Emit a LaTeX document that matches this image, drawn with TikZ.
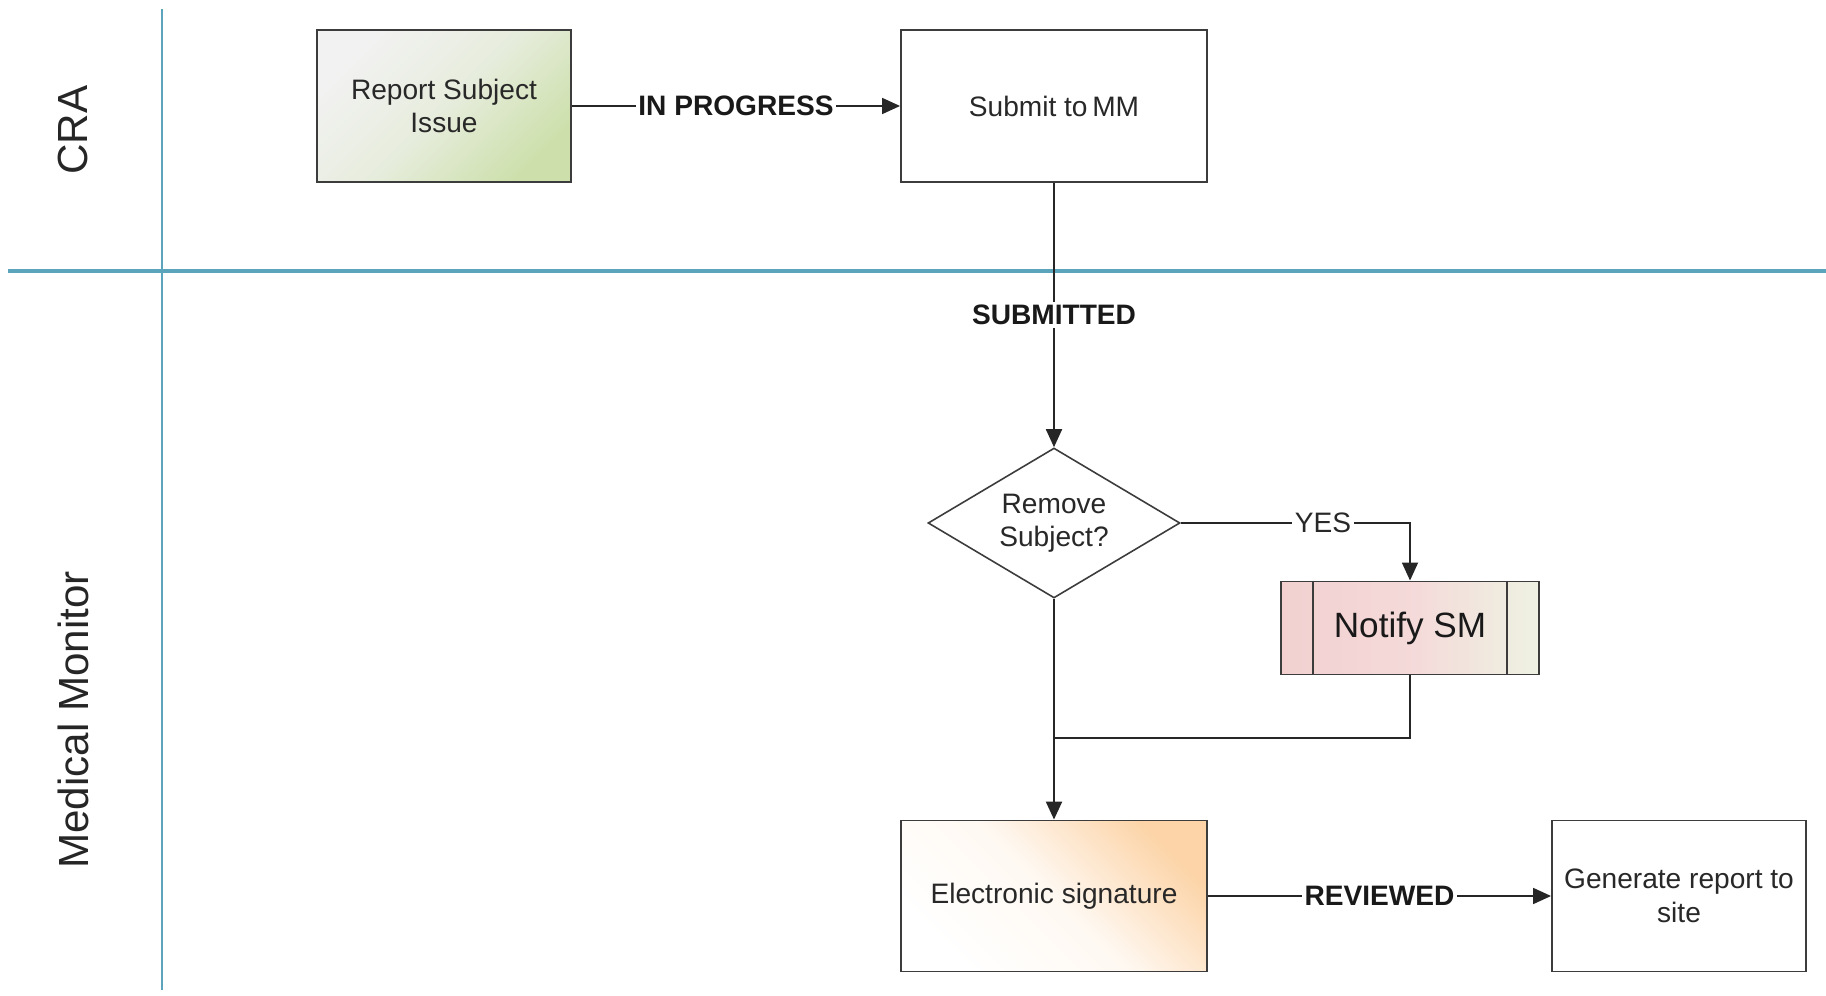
\documentclass[tikz,border=0pt]{standalone}
\usepackage{fontspec}
\setmainfont{Liberation Sans}
\usetikzlibrary{arrows.meta,shapes.geometric,calc}
\definecolor{lane}{RGB}{92,163,188}
\definecolor{boxline}{RGB}{60,60,60}
\definecolor{txt}{RGB}{40,40,40}
\definecolor{greenfill}{RGB}{205,224,172}
\definecolor{greystart}{RGB}{242,242,242}
\definecolor{peach}{RGB}{252,212,168}
\definecolor{pinkfill}{RGB}{242,208,208}
\definecolor{creamgreen}{RGB}{238,242,226}
\begin{document}
\begin{tikzpicture}[x=0.02cm,y=-0.02cm,
  procbox/.style={draw=boxline, line width=1.1pt, text=txt, align=center,
    font=\fontsize{16pt}{19pt}\selectfont, inner sep=2pt},
  flow/.style={draw=black!85, line width=1pt},
  arr/.style={flow, -{Triangle[length=0.36cm,width=0.32cm]}},
  lbl/.style={fill=white, inner sep=1.5pt, font=\bfseries\fontsize{16pt}{19pt}\selectfont, text=black!90},
  lblr/.style={fill=white, inner sep=1.5pt, font=\fontsize{16pt}{19pt}\selectfont, text=txt},
  lanetitle/.style={rotate=90, font=\fontsize{24pt}{28pt}\selectfont, text=black!85}]
\useasboundingbox (0,0) rectangle (1826,996);
% lanes
\draw[lane, line width=1.2pt] (162,9) -- (162,990);
\draw[lane, line width=1.8pt] (8,271) -- (1826,271);
\node[lanetitle] (cra) at (73,130) {CRA};
\node[lanetitle] (mm) at (73,720) {Medical Monitor};
% nodes
\node[procbox, minimum width=5.08cm, minimum height=3.04cm, shading=axis,
  top color=greystart, bottom color=greenfill, middle color=greystart!70!greenfill, shading angle=45] (report) at (444,106) {Report Subject\\Issue};
\node[procbox, minimum width=6.12cm, minimum height=3.04cm, fill=white] (submit) at (1054,106) {Submit to\,MM};
\node[procbox, shape=diamond, aspect=1.68, inner sep=0pt, line width=0.9pt,
  minimum width=5.04cm, minimum height=3.0cm, fill=white] (remove) at (1054,523) {Remove\\Subject?};
\node[procbox, minimum width=5.16cm, minimum height=1.86cm, left color=pinkfill,
  right color=creamgreen, middle color=pinkfill!80!white,
  font=\fontsize{20pt}{24pt}\selectfont, text=black!90] (notify) at (1410,628) {Notify SM};
\draw[boxline, line width=1.1pt] ($(notify.north west)+(33,0)$) -- ($(notify.south west)+(33,0)$);
\draw[boxline, line width=1.1pt] ($(notify.north east)+(-33,0)$) -- ($(notify.south east)+(-33,0)$);
\node[procbox, minimum width=6.12cm, minimum height=3.02cm, shading=axis,
  top color=peach, bottom color=white, middle color=peach!15!white, shading angle=-45] (esig) at (1054,896) {Electronic signature};
\node[procbox, minimum width=5.08cm, minimum height=3.02cm, fill=white] (gen) at (1679,896) {Generate report to\\site};
% connectors
\draw[arr] (report.east) -- node[lbl] (lprog) {IN PROGRESS} (submit.west);
\draw[arr] (submit.south) -- node[lbl] (lsub) {SUBMITTED} (remove.north);
\draw[arr] (remove.east) -| node[lblr, pos=0.31] (lyes) {YES} (notify.north);
\coordinate (merge) at (1054,738);
\draw[flow] (notify.south) |- (merge);
\draw[arr, line width=1.3pt] (remove.south) -- (esig.north);
\draw[arr] (esig.east) -- node[lbl] (lrev) {REVIEWED} (gen.west);
\end{tikzpicture}
\end{document}
